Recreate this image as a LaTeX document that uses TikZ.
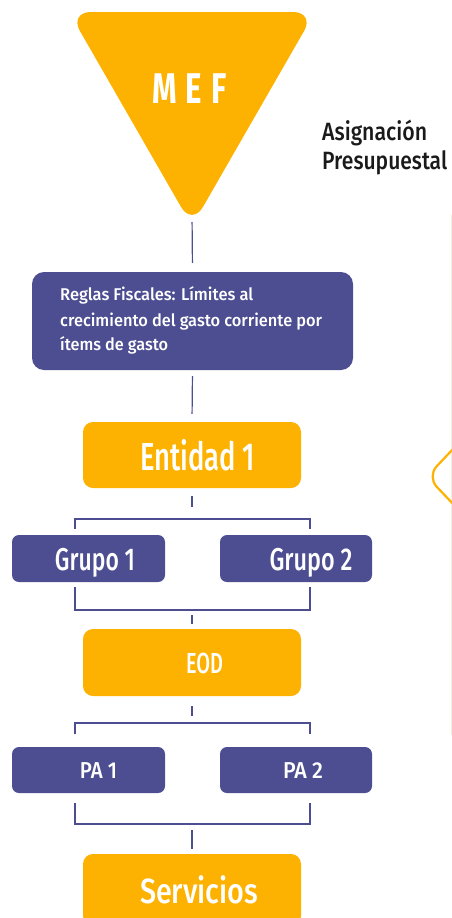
\documentclass[tikz,border=0pt]{standalone}
\usepackage{fontspec}
\setmainfont{Fira Sans}[UprightFont={* Medium}, BoldFont={* Bold}]
\usepackage{graphicx}
\definecolor{mefor}{HTML}{FDB201}
\definecolor{mefpu}{HTML}{4D4E91}
\definecolor{meflt}{HTML}{F6EEDC}
\definecolor{mefbk}{HTML}{1A1A1A}
\newcommand\fw[3]{\resizebox{#1}{\height}{\fontsize{#2}{#2}\selectfont #3}}
\begin{document}
\begin{tikzpicture}[x=1pt,y=-1pt,
  obox/.style={fill=mefor, draw=none, rounded corners=10pt, inner sep=0},
  pbox/.style={fill=mefpu, draw=none, rounded corners=7pt, inner sep=0},
  wtxt/.style={inner sep=0, text=white, anchor=base},
  ltxt/.style={inner sep=0, text=white, anchor=base west},
  conn/.style={draw=mefpu, line width=1.2pt}]
\useasboundingbox (0,0) rectangle (452,918);

% right side
\draw[meflt, line width=1pt] (451.3,215) -- (451.3,735);
\draw[mefor, line width=2.2pt, rounded corners=14pt] (454,448) -- (427,476.5) -- (454,505);

% MEF triangle
\fill[mefor, rounded corners=22pt] (69,12) -- (315,12) -- (192,226) -- cycle;
\coordinate (trib) at (192,213);
\node[wtxt] (mef) at (189.5,103) {\fw{75pt}{43}{\bfseries M\hspace{0.3em}E\hspace{0.3em}F}};

\node[anchor=base west, inner sep=0, text=mefbk] (asig) at (322,140.7) {\fw{105pt}{25}{Asignación}};
\node[anchor=base west, inner sep=0, text=mefbk] (pres) at (322,169) {\fw{125pt}{25}{Presupuestal}};

% boxes
\node[pbox, rounded corners=12pt, minimum width=321pt, minimum height=98pt] (reglas) at (192.5,321) {};
\node[ltxt] (r1) at (60,300) {\fw{193pt}{17}{Reglas Fiscales: Límites al}};
\node[ltxt] (r2) at (60,326) {\fw{262pt}{17}{crecimiento del gasto corriente por}};
\node[ltxt] (r3) at (60,350) {\fw{108pt}{17}{ítems de gasto}};

\node[obox, minimum width=218pt, minimum height=66pt] (ent1) at (192,455) {};
\node[wtxt] (ent1t) at (197.5,470) {\fw{115pt}{39}{Entidad 1}};

\node[pbox, minimum width=153pt, minimum height=47pt] (g1) at (88.5,558.5) {};
\node[pbox, minimum width=152pt, minimum height=47pt] (g2) at (296,558.5) {};
\node[wtxt] (g1t) at (95,570) {\fw{80pt}{31.5}{Grupo 1}};
\node[wtxt] (g2t) at (311,570) {\fw{83pt}{31.5}{Grupo 2}};

\node[obox, minimum width=218pt, minimum height=67pt] (eod) at (192,662.5) {};
\node[wtxt] (eodt) at (204.5,673) {\fw{37pt}{29}{EOD}};

\node[pbox, minimum width=153pt, minimum height=46pt] (pa1) at (88.5,770) {};
\node[pbox, minimum width=152pt, minimum height=46pt] (pa2) at (296,770) {};
\node[wtxt] (pa1t) at (98.5,778) {\fw{37pt}{23}{PA 1}};
\node[wtxt] (pa2t) at (303,778) {\fw{40pt}{23}{PA 2}};

\node[obox, minimum width=218pt, minimum height=72pt] (serv) at (192,890) {};
\node[wtxt] (servt) at (199,903) {\fw{118pt}{35}{Servicios}};

% connectors
\draw[conn, shorten <=9pt, shorten >=9pt] (trib) -- (reglas.north);
\draw[conn, shorten <=6pt, shorten >=8pt] (reglas.south) -- (ent1.north);

\coordinate (k1) at (192,507);
\draw[conn, shorten <=8pt] (ent1.south) -- (k1);
\coordinate (b1l) at (75,529);
\coordinate (b1r) at (310,529);
\draw[conn] (b1l) -- ++(0,-10) -| (b1r);
\coordinate (b2l) at (75,587);
\coordinate (b2r) at (310,587);
\draw[conn] (b2l) -- ++(0,23) -| (b2r);
\coordinate (k2) at (192,615);
\draw[conn, shorten >=5pt] (k2) -- (eod.north);

\coordinate (k3) at (192,716);
\draw[conn, shorten <=10pt] (eod.south) -- (k3);
\coordinate (b3l) at (75,734);
\coordinate (b3r) at (310,734);
\draw[conn] (b3l) -- ++(0,-11) -| (b3r);
\coordinate (b4l) at (75,803);
\coordinate (b4r) at (310,803);
\draw[conn] (b4l) -- ++(0,21) -| (b4r);
\coordinate (k4) at (192,830);
\draw[conn, shorten >=5pt] (k4) -- (serv.north);
\end{tikzpicture}
\end{document}
